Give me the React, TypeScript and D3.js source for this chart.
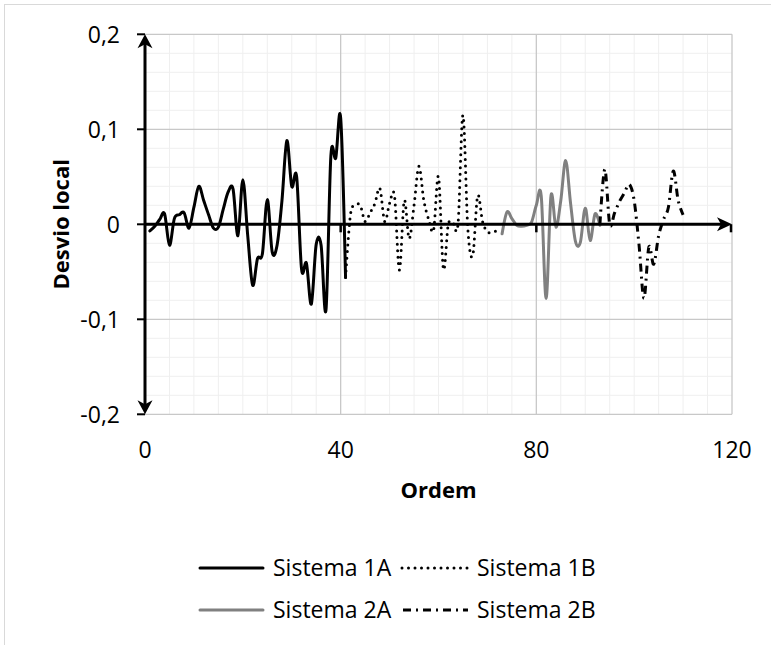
import React from "react";
import * as d3 from "d3";

// ---- data ----
const START_1A = 1;
const VALUES_1A = [-0.007, -0.002, 0.005, 0.011, -0.022, 0.006, 0.010, 0.012, -0.004, 0.018,
  0.040, 0.025, 0.010, -0.004, -0.003, 0.016, 0.034, 0.037, -0.012, 0.047,
  -0.012, -0.064, -0.036, -0.031, 0.026, -0.029, -0.022, 0.025, 0.088, 0.040,
  0.050, -0.047, -0.041, -0.084, -0.021, -0.022, -0.090, 0.072, 0.070, 0.112, -0.056];
const START_1B = 41;
const VALUES_1B = [-0.056, 0.010, 0.020, 0.020, 0.003, 0.012, 0.022, 0.038, 0.003, 0.022,
  0.030, -0.048, 0.025, -0.015, 0.020, 0.061, 0.025, 0.005, -0.006, 0.050,
  -0.047, 0.000, 0.001, 0.001, 0.115, -0.005, -0.033, 0.030, 0.003, -0.008,
  -0.008, -0.007];
const START_2A = 73;
const VALUES_2A = [-0.010, 0.013, 0.006, -0.001, -0.002, -0.001, 0.002, 0.020, 0.030, -0.078,
  0.030, -0.003, 0.025, 0.067, 0.022, -0.018, -0.019, 0.017, -0.017, 0.011, -0.001];
const START_2B = 93;
const VALUES_2B = [0.000, 0.058, 0.000, 0.012, 0.024, 0.033, 0.042, 0.025, -0.022, -0.078,
  -0.024, -0.042, -0.012, 0.005, 0.018, 0.056, 0.025, 0.010];

const X_TICKS = [0, 40, 80, 120];
const X_TICK_LABELS = ["0", "40", "80", "120"];
const Y_TICKS = [-0.2, -0.1, 0, 0.1, 0.2];
const Y_TICK_LABELS = ["-0,2", "-0,1", "0", "0,1", "0,2"];
const SERIES_NAMES = ["Sistema 1A", "Sistema 1B", "Sistema 2A", "Sistema 2B"];
const X_TITLE = "Ordem";
const Y_TITLE = "Desvio local";

const FONT = "'Open Sans', sans-serif";

const W = 771, H = 645;
const L = 145, R = 732, T = 34.3, B = 414.3;

export default function App() {
  const x = d3.scaleLinear().domain([0, 120]).range([L, R]);
  const y = d3.scaleLinear().domain([-0.2, 0.2]).range([B, T]);
  const line = d3.line<[number, number]>()
    .x(d => x(d[0]))
    .y(d => y(d[1]))
    .curve(d3.curveCardinal.tension(0));
  const pts = (start: number, vals: number[]) => vals.map((v, i) => [start + i, v] as [number, number]);

  const minorX = d3.range(5, 120, 5).filter(v => v % 40 !== 0);
  const minorY = d3.range(-0.18, 0.2, 0.02).filter(v => Math.abs(Math.round(v * 100)) % 10 !== 0);

  const series = [
    { d: pts(START_1A, VALUES_1A), stroke: "#000", dash: undefined as string | undefined, cap: "round" },
    { d: pts(START_1B, VALUES_1B), stroke: "#000", dash: "0 6.5", cap: "round" },
    { d: pts(START_2A, VALUES_2A), stroke: "#808080", dash: undefined, cap: "round" },
    { d: pts(START_2B, VALUES_2B), stroke: "#000", dash: "8 5 2 5", cap: "butt" },
  ];

  const legend = [
    { x1: 200, x2: 263, tx: 273, y: 568, s: series[0], name: SERIES_NAMES[0] },
    { x1: 402, x2: 470, tx: 477, y: 568, s: series[1], name: SERIES_NAMES[1] },
    { x1: 200, x2: 263, tx: 273, y: 610, s: series[2], name: SERIES_NAMES[2] },
    { x1: 403, x2: 468, tx: 477, y: 610, s: series[3], name: SERIES_NAMES[3] },
  ];

  return (
    <svg width={W} height={H} style={{ position: "absolute", left: 0, top: 0, background: "#fff" }}
      fontFamily={FONT}>
      <rect x={4.5} y={4.5} width={900} height={900} fill="#fff" stroke="#d9d9d9" strokeWidth={1} />
      {/* minor grid */}
      {minorX.map(v => (
        <line key={"mx" + v} x1={x(v)} x2={x(v)} y1={T} y2={B} stroke="#efefef" strokeWidth={1} />
      ))}
      {minorY.map(v => (
        <line key={"my" + v} x1={L} x2={R} y1={y(v)} y2={y(v)} stroke="#efefef" strokeWidth={1} />
      ))}
      {/* major grid */}
      {X_TICKS.filter(v => v !== 0).map(v => (
        <line key={"gx" + v} x1={x(v)} x2={x(v)} y1={T} y2={B} stroke="#c8c8c8" strokeWidth={1.3} />
      ))}
      {Y_TICKS.filter(v => v !== 0).map(v => (
        <line key={"gy" + v} x1={L} x2={R} y1={y(v)} y2={y(v)} stroke="#c8c8c8" strokeWidth={1.3} />
      ))}
      {/* series */}
      {series.map((s, i) => (
        <path key={"s" + i} d={line(s.d) || ""} fill="none" stroke={s.stroke} strokeWidth={3}
          strokeDasharray={s.dash} strokeLinecap={s.cap as any} strokeLinejoin="round" />
      ))}
      {/* axes */}
      <line x1={x(0)} x2={x(0)} y1={T + 6} y2={B - 6} stroke="#000" strokeWidth={3} />
      <line x1={x(0)} x2={R - 8} y1={y(0)} y2={y(0)} stroke="#000" strokeWidth={3} />
      {Y_TICKS.map(v => (
        <line key={"ty" + v} x1={L - 8} x2={L} y1={y(v)} y2={y(v)} stroke="#000" strokeWidth={2} />
      ))}
      {X_TICKS.filter(v => v !== 0).map(v => (
        <line key={"tx" + v} x1={x(v) - (v === 120 ? 1 : 0)} x2={x(v) - (v === 120 ? 1 : 0)} y1={y(0)} y2={y(0) + 8} stroke="#000" strokeWidth={2.5} />
      ))}
      <path d={`M${x(0)},${T} L${x(0) - 7.5},${T + 14} L${x(0)},${T + 10} L${x(0) + 7.5},${T + 14} Z`} fill="#000" />
      <path d={`M${x(0)},${B} L${x(0) - 7.5},${B - 14} L${x(0)},${B - 10} L${x(0) + 7.5},${B - 14} Z`} fill="#000" />
      <path d={`M${R},${y(0)} L${R - 15},${y(0) - 7} L${R - 11},${y(0)} L${R - 15},${y(0) + 7} Z`} fill="#000" />
      {/* tick labels */}
      {Y_TICKS.map((v, i) => (
        <text key={"ly" + v} x={120} y={y(v)} dy="0.36em" textAnchor="end" fontSize={23} fill="#000">{Y_TICK_LABELS[i]}</text>
      ))}
      {X_TICKS.map((v, i) => (
        <text key={"lx" + v} x={x(v)} y={458} textAnchor="middle" fontSize={23} fill="#000">{X_TICK_LABELS[i]}</text>
      ))}
      <text x={(L + R) / 2} y={498} textAnchor="middle" fontSize={22} fontWeight="bold" fill="#000">{X_TITLE}</text>
      <text transform={`translate(69,${(T + B) / 2}) rotate(-90)`} textAnchor="middle" fontSize={22} fontWeight="bold" fill="#000">{Y_TITLE}</text>
      {/* legend */}
      {legend.map((g, i) => (
        <g key={"lg" + i}>
          <line x1={g.x1} x2={g.x2} y1={g.y} y2={g.y} stroke={g.s.stroke} strokeWidth={3}
            strokeDasharray={g.s.dash} strokeLinecap={g.s.cap as any} />
          <text x={g.tx} y={g.y} dy="0.36em" fontSize={23} fill="#000">{g.name}</text>
        </g>
      ))}
    </svg>
  );
}
